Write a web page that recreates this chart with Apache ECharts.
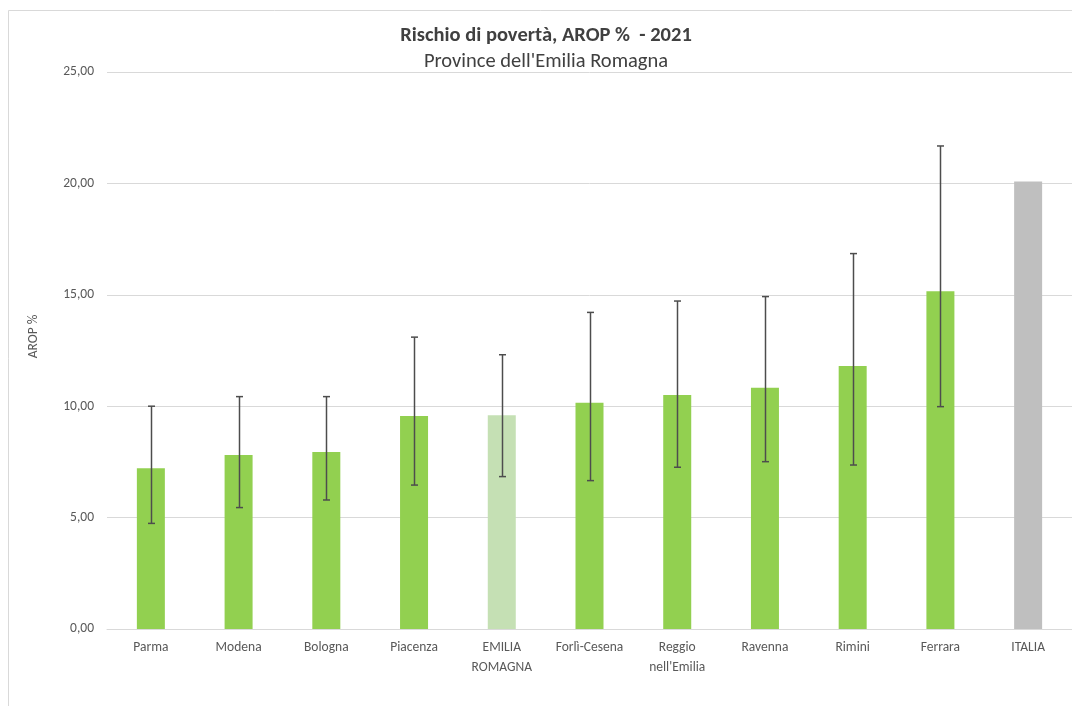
<!DOCTYPE html>
<html>
<head>
<meta charset="utf-8">
<script src="https://cdn.jsdelivr.net/npm/echarts@6/dist/echarts.min.js"></script>
<style>
html,body{margin:0;padding:0;background:#fff;}
#chart{width:1072px;height:706px;}
</style>
</head>
<body>
<div id="chart"></div>
<script>
const categories = ["Parma","Modena","Bologna","Piacenza","EMILIA\nROMAGNA","Forlì-Cesena","Reggio\nnell'Emilia","Ravenna","Rimini","Ferrara","ITALIA"];
const values = [7.21, 7.81, 7.94, 9.56, 9.59, 10.16, 10.50, 10.83, 11.80, 15.16, 20.08];
const errLow = [4.74, 5.45, 5.79, 6.46, 6.84, 6.66, 7.26, 7.51, 7.36, 9.98, null];
const errHigh = [10.00, 10.43, 10.43, 13.10, 12.31, 14.21, 14.72, 14.92, 16.85, 21.68, null];
const yTicks = [0, 5, 10, 15, 20, 25];

const chart = echarts.init(document.getElementById('chart'), null, {renderer: 'canvas'});
const font = "Calibri, Carlito, Lato, 'Open Sans', 'Noto Sans', sans-serif";

function barColor(name) {
  if (name === "ITALIA") return '#BFBFBF';
  if (name.indexOf("EMILIA") === 0) return '#C5E0B4';
  return '#92D050';
}

const errData = [];
categories.forEach((c, i) => {
  if (errLow[i] != null && errHigh[i] != null) errData.push([i, errLow[i], errHigh[i]]);
});

chart.setOption({
  backgroundColor: '#fff',
  animation: false,
  textStyle: {fontFamily: font},
  title: {
    text: 'Rischio di povertà, AROP %  - 2021',
    subtext: "Province dell'Emilia Romagna",
    left: 541,
    textAlign: 'center',
    top: 20,
    itemGap: 5,
    textStyle: {fontFamily: font, fontSize: 20.5, fontWeight: 'bold', color: '#404040'},
    subtextStyle: {fontFamily: font, fontSize: 20.5, color: '#404040'}
  },
  graphic: [{
    type: 'rect',
    shape: {x: 8.5, y: 10.5, width: 1200, height: 800},
    style: {fill: 'none', stroke: '#D9D9D9', lineWidth: 1},
    silent: true, z: -1
  }],
  grid: {left: 107, top: 72, bottom: 77, width: 967},
  xAxis: {
    type: 'category',
    data: categories,
    axisLine: {show: true, lineStyle: {color: '#D9D9D9', width: 1}},
    axisTick: {show: false},
    axisLabel: {color: '#595959', fontSize: 13.5, fontFamily: font, margin: 9, lineHeight: 20, interval: 0}
  },
  yAxis: {
    type: 'value',
    min: yTicks[0],
    max: yTicks[yTicks.length - 1],
    interval: 5,
    name: 'AROP %',
    nameLocation: 'middle',
    nameRotate: 90,
    nameGap: 66,
    nameTextStyle: {color: '#595959', fontSize: 13.5, fontFamily: font, padding: [0, 0, 0, 28]},
    axisLine: {show: false},
    axisTick: {show: false},
    splitLine: {lineStyle: {color: '#D9D9D9', width: 1}},
    axisLabel: {
      color: '#595959', fontSize: 13.5, fontFamily: font, margin: 13,
      formatter: v => v.toFixed(2).replace('.', ',')
    }
  },
  series: [{
    type: 'bar',
    data: values.map((v, i) => ({value: v, itemStyle: {color: barColor(categories[i])}})),
    barWidth: 28
  }, {
    type: 'custom',
    data: errData,
    z: 10,
    renderItem: function (params, api) {
      const idx = api.value(0);
      const lo = api.coord([idx, api.value(1)]);
      const hi = api.coord([idx, api.value(2)]);
      const x = Math.round(lo[0]) + 0.5;
      const hw = 3.5;
      const st = {stroke: '#4D4D4D', lineWidth: 1.5};
      return {
        type: 'group',
        children: [
          {type: 'line', shape: {x1: x, y1: lo[1], x2: x, y2: hi[1]}, style: st},
          {type: 'line', shape: {x1: x - hw, y1: lo[1], x2: x + hw, y2: lo[1]}, style: st},
          {type: 'line', shape: {x1: x - hw, y1: hi[1], x2: x + hw, y2: hi[1]}, style: st}
        ]
      };
    }
  }]
});
</script>
</body>
</html>
